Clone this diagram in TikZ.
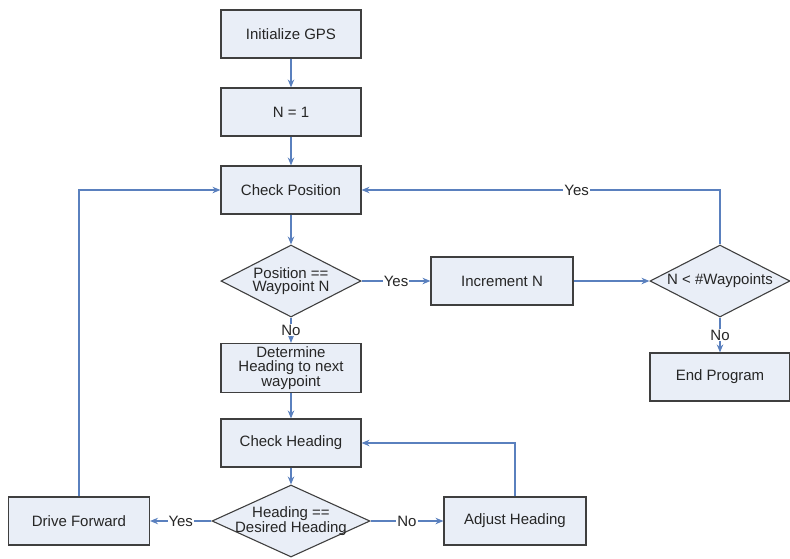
\documentclass[tikz,border=0pt]{standalone}
\usepackage{fontspec}
\setmainfont{Liberation Sans}
\usepackage{tikz}
\usetikzlibrary{positioning,shapes.geometric,arrows.meta}
\usepackage{xcolor}
\definecolor{boxfill}{HTML}{E9EEF7}
\definecolor{boxline}{HTML}{3F3F3F}
\definecolor{flowline}{HTML}{5A80BE}
\definecolor{textmain}{HTML}{262626}

\newcommand{\chartfont}{\fontsize{15}{13.5}\selectfont}

\tikzset{
  stepbox/.style={draw=boxline,fill=boxfill,line width=1.1pt,minimum width=140pt,minimum height=48pt,
    align=center,text=textmain,font=\chartfont},
  decision/.style={diamond,draw=boxline,fill=boxfill,line width=1.1pt,aspect=2,inner xsep=-20pt,inner ysep=-6pt,
    align=center,text=textmain,font=\chartfont},
  flow/.style={draw=flowline,line width=1.1pt,-{Stealth[length=8pt,width=6.5pt]}},
  flowlabel/.style={fill=white,inner sep=1pt,text=textmain,font=\chartfont}
}

\begin{document}
\begin{tikzpicture}[x=1pt,y=-1pt]
    \useasboundingbox (0,0) rectangle (790,558);

    % Main column
    \node[stepbox] (init) at (291,34) {Initialize GPS};
    \node[stepbox] (nset) at (291,112) {N = 1};
    \node[stepbox] (checkpos) at (291,190) {Check Position};
    \node[decision,minimum width=140pt,minimum height=72pt] (posdec) at (291,281) {Position ==\\Waypoint N};
    \node[stepbox] (determine) at (291,368) {Determine\\Heading to next\\waypoint};
    \node[stepbox] (checkhead) at (291,443) {Check Heading};
    \node[decision,minimum width=158pt,minimum height=72pt] (headdec) at (291,521) {Heading ==\\Desired Heading};

    % Waypoint branch
    \node[stepbox,minimum width=142pt] (incn) at (502,281) {Increment N};
    \node[decision,minimum width=140pt,minimum height=72pt] (wpdec) at (720,281) {N < \#Waypoints};
    \node[stepbox] (endprog) at (720,377) {End Program};

    % Heading branch
    \node[stepbox,minimum width=141pt] (drive) at (79,521) {Drive Forward};
    \node[stepbox,minimum width=142pt] (adjust) at (515,521) {Adjust Heading};

    % Connectors
    \draw[flow] (init) -- (nset);
    \draw[flow] (nset) -- (checkpos);
    \draw[flow] (checkpos) -- (posdec);
    \draw[flow] (posdec) -- node[flowlabel] {Yes} (incn);
    \draw[flow] (posdec) -- node[flowlabel] {No} (determine);
    \draw[flow] (incn) -- (wpdec);
    \draw[flow] (wpdec.north) |- node[flowlabel,pos=0.7] {Yes} (checkpos.east);
    \draw[flow] (wpdec) -- node[flowlabel] {No} (endprog);
    \draw[flow] (determine) -- (checkhead);
    \draw[flow] (checkhead) -- (headdec);
    \draw[flow] (headdec) -- node[flowlabel] {Yes} (drive);
    \draw[flow] (headdec) -- node[flowlabel] {No} (adjust);
    \draw[flow] (adjust.north) |- (checkhead.east);
    \draw[flow] (drive.north) |- (checkpos.west);
\end{tikzpicture}
\end{document}
